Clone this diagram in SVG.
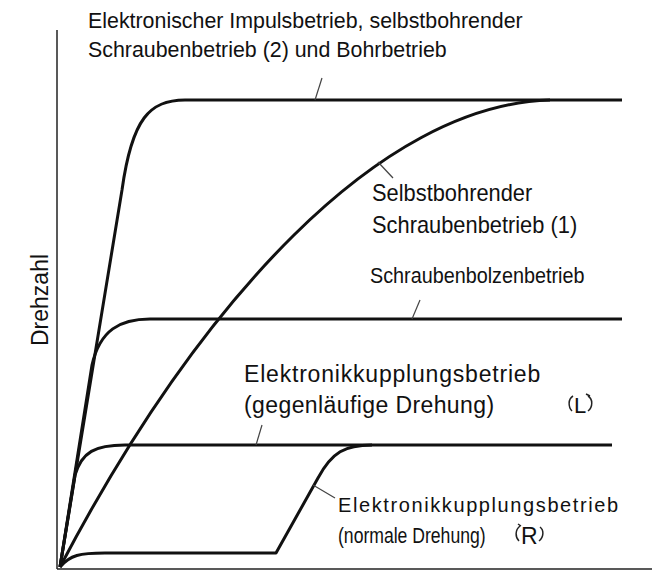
<svg xmlns="http://www.w3.org/2000/svg" width="656" height="570" viewBox="0 0 656 570">
<style>
.c{fill:none;stroke:#111;stroke-width:3;stroke-linejoin:round}
.a{fill:none;stroke:#222;stroke-width:1.5}
.ld{fill:none;stroke:#444;stroke-width:1.2}
text{font-family:"Liberation Sans",Arial,sans-serif;fill:#111}
</style>
<rect width="656" height="570" fill="#fff"/>
<g id="axes">
<line class="a" x1="57" y1="30" x2="57" y2="569"/>
<line class="a" x1="57" y1="569" x2="652" y2="569"/>
<text transform="translate(48,300) rotate(-90)" text-anchor="middle" font-size="23">Drehzahl</text>
</g>
<g id="connectors">
<path class="c" d="M60,567 L122,190 C132,118 150,100 185,100 L622,100"/>
<path class="c" d="M60,567 C200,300 380,105 550,100"/>
<path class="c" d="M60,567 L92,365 C100,330 120,319 150,319 L622,319"/>
<path class="c" d="M60,567 L75,475 C82,452 95,445 125,445 L612,445"/>
<path class="c" d="M60,567 C70,555 80,553 105,553 L276,553 L318,478 C332,452 345,445 372,445"/>
<path class="ld" d="M315,100 L322,78"/>
<path class="ld" d="M378,162 L393,178"/>
<path class="ld" d="M412,319 L420,300"/>
<path class="ld" d="M256,445 L262,425"/>
<path class="ld" d="M313,485 L335,498"/>
</g>
<g id="label-top">
<text transform="translate(88,28) scale(0.93,1)" font-size="23">Elektronischer Impulsbetrieb, selbstbohrender</text>
<text transform="translate(88,57) scale(0.93,1)" font-size="23">Schraubenbetrieb (2) und Bohrbetrieb</text>
</g>
<g id="label-self">
<text transform="translate(372,201) scale(0.95,1)" font-size="23">Selbstbohrender</text>
<text transform="translate(372,233) scale(0.95,1)" font-size="23">Schraubenbetrieb (1)</text>
</g>
<g id="label-bolzen">
<text transform="translate(370,283) scale(0.9,1)" font-size="22">Schraubenbolzenbetrieb</text>
</g>
<g id="label-L">
<text x="244" y="382" font-size="23" letter-spacing="0.8">Elektronikkupplungsbetrieb</text>
<text x="244" y="413" font-size="23" letter-spacing="0.4">(gegenläufige Drehung)</text>
<path class="a" d="M573,396 C568,399 568,407 572,411"/>
<text x="574" y="413" font-size="22">L</text>
<path class="a" d="M588,396 C593,399 593,407 588,411 M586,394 L590,396"/>
</g>
<g id="label-R">
<text x="338" y="512" font-size="20" letter-spacing="1.6">Elektronikkupplungsbetrieb</text>
<text transform="translate(338,543) scale(0.8,1)" font-size="22">(normale Drehung)</text>
<path class="a" d="M520,526 C515,530 515,537 519,541 M518,524 L521,526"/>
<text x="521" y="544" font-size="23">R</text>
<path class="a" d="M540,527 C544,530 544,537 539,541"/>
</g>
</svg>
